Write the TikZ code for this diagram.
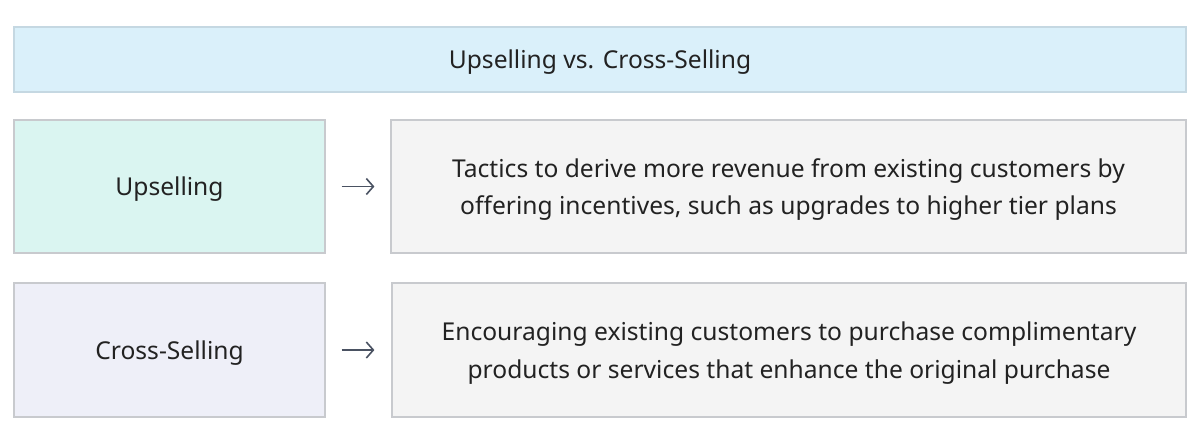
\documentclass[tikz,border=0pt]{standalone}
\usepackage{fontspec}
\setmainfont{Noto Sans}
\usetikzlibrary{positioning,arrows.meta}

\definecolor{titlefill}{HTML}{DAF0FA}
\definecolor{titleline}{HTML}{C5D8E2}
\definecolor{upfill}{HTML}{DAF5F1}
\definecolor{crossfill}{HTML}{EEEFF8}
\definecolor{descfill}{HTML}{F4F4F4}
\definecolor{boxline}{HTML}{C8CACE}
\definecolor{arrowgray}{HTML}{4A5262}
\definecolor{txt}{HTML}{222222}

\begin{document}
\begin{tikzpicture}
    [x=0.5pt,y=-0.5pt, every node/.style={draw=boxline, line width=0.6pt, inner sep=0pt, text=txt, font=\fontsize{12.3}{18.8}\selectfont, align=center, text depth=0pt},
     term/.style={minimum width=155.5pt, minimum height=66.5pt},
     desc/.style={fill=descfill, minimum width=397.5pt, minimum height=66.5pt},
     link/.style={-{Straight Barb[length=3.5pt, width=8pt]}, arrowgray, line width=0.8pt}]
    \useasboundingbox (0,0) rectangle (1200,446);
    \node[fill=titlefill, draw=titleline, minimum width=586pt, minimum height=32.5pt] (title) at (600, 59.5) {Upselling vs. Cross-Selling};
    \node[term, fill=upfill] (up) at (169.5, 186.5) {Upselling};
    \node[desc] (upd) at (788.5, 186.5) {Tactics to derive more revenue from existing customers by\\offering incentives, such as upgrades to higher tier plans};
    \node[term, fill=crossfill, minimum height=67pt] (cross) at (169.5, 350) {Cross-Selling};
    \node[desc, minimum height=67pt, minimum width=397pt] (crossd) at (789, 350) {Encouraging existing customers to purchase complimentary\\products or services that enhance the original purchase};
    \draw[link, shorten <=8pt, shorten >=8pt] (up) -- (upd);
    \draw[link, shorten <=8pt, shorten >=8.5pt] (cross) -- (crossd);
  \end{tikzpicture}
\end{document}
